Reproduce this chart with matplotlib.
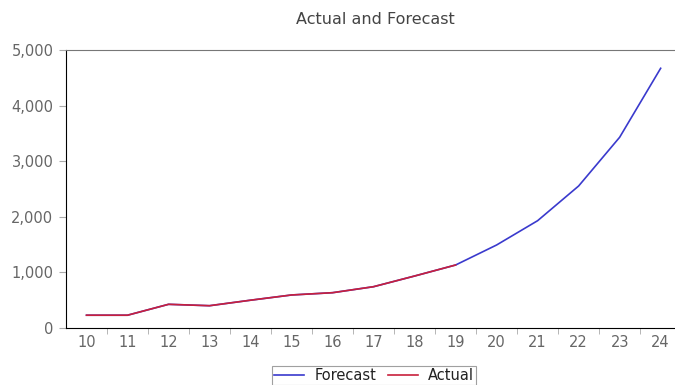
import matplotlib
matplotlib.use('Agg')
import matplotlib.pyplot as plt
from matplotlib.ticker import FuncFormatter, MultipleLocator

plt.rcParams['font.family'] = ['DejaVu Sans']

years = [10, 11, 12, 13, 14, 15, 16, 17, 18, 19, 20, 21, 22, 23, 24]
forecast = [230, 230, 426, 401, 500, 594, 635, 743, 935, 1133,
            1493, 1930, 2554, 3430, 4671]
actual_years = years[:10]
actual = forecast[:10]

fig = plt.figure(figsize=(6.75, 3.85), dpi=100)
ax = fig.add_axes([66/675, 1 - 328/385, (675 - 66)/675, (328 - 50)/385])

ax.plot(years, forecast, color='#3a3acd', lw=1.2, label='Forecast')
ax.plot(actual_years, actual, color='#c8203c', lw=1.2, label='Actual')

ax.set_xlim(9.5, 24.35)
ax.set_ylim(0, 5000)
ax.set_xticks(years)
ax.set_xticks([y + 0.5 for y in years[:-1]], minor=True)
ax.tick_params(axis='x', which='major', length=0, labelsize=10.5, colors='#666666', pad=5)
ax.tick_params(axis='x', which='minor', length=4, color='#aaaaaa', direction='out')
ax.yaxis.set_major_locator(MultipleLocator(1000))
ax.yaxis.set_major_formatter(FuncFormatter(lambda v, p: f'{int(v):,}'))
ax.tick_params(axis='y', length=5, color='#aaaaaa', labelsize=10.5, labelcolor='#666666', pad=4)

ax.spines['left'].set_color('black')
ax.spines['bottom'].set_color('black')
ax.spines['top'].set_color('#777777')
ax.spines['right'].set_visible(False)

fig.text(375/675, 1 - 19/385, 'Actual and Forecast', ha='center', va='center',
         fontsize=11.5, color='#444444')

leg = fig.legend(loc='upper center', bbox_to_anchor=(374/675, 1 - 366/385), ncol=2,
                 frameon=True, fancybox=False, fontsize=10.5, handlelength=2.05,
                 columnspacing=0.8, borderpad=0.15, handletextpad=0.7,
                 borderaxespad=0)
leg.get_frame().set_edgecolor('#888888')
leg.get_frame().set_linewidth(0.8)
for t in leg.get_texts():
    t.set_color('#222222')

fig.savefig('out.png', dpi=100)
